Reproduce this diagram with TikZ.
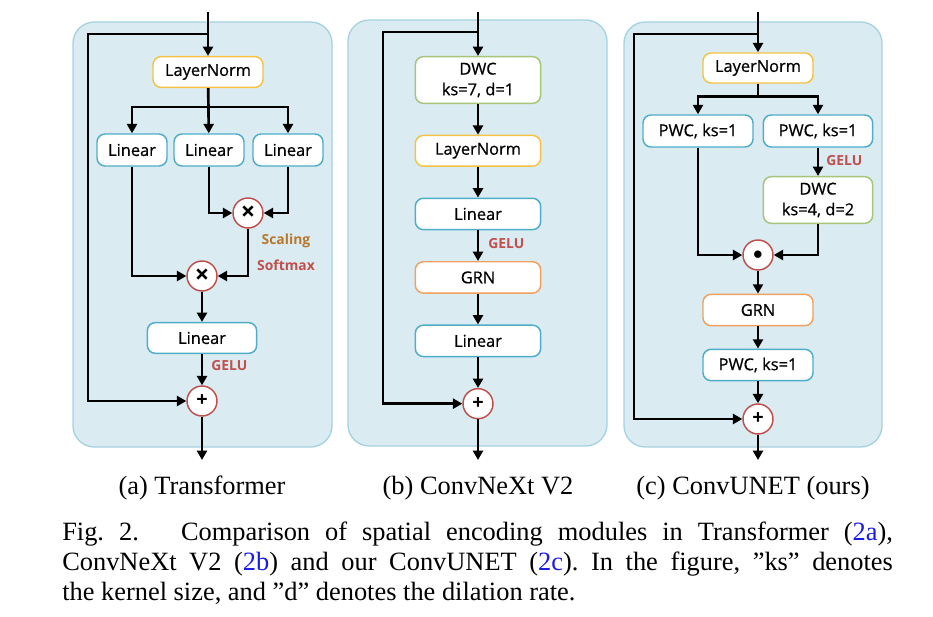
\documentclass[tikz,border=0pt]{standalone}
\usepackage{fontspec}
\setmainfont{Liberation Serif}
\newfontfamily\boxfont[FakeBold=0.6]{Open Sans}
\newfontfamily\lblfont{Open Sans}
\usetikzlibrary{positioning,arrows.meta}
\definecolor{panelfill}{HTML}{DAEBF2}
\definecolor{paneldraw}{HTML}{A5D2E0}
\definecolor{lncol}{HTML}{F4C244}
\definecolor{lincol}{HTML}{4FADC8}
\definecolor{dwccol}{HTML}{A6C47A}
\definecolor{grncol}{HTML}{F0A060}
\definecolor{opcol}{HTML}{C0504D}
\definecolor{scalecol}{HTML}{B8782E}
\definecolor{refcol}{HTML}{1A1AE6}
\tikzset{
  line/.style={-{Triangle[length=7pt,width=7.5pt]}, line width=2pt},
  panel/.style={fill=panelfill, draw=paneldraw, line width=1pt, rounded corners=16pt},
  box/.style={draw, fill=white, rounded corners=6pt, line width=1.1pt, align=center, inner sep=2pt,
    font=\boxfont\fontsize{12.3}{15.5}\selectfont},
  lnbox/.style={box, draw=lncol, minimum width=82.5pt, minimum height=23pt},
  linbox/.style={box, draw=lincol, minimum width=52.5pt, minimum height=24pt},
  dwcbox/.style={box, draw=dwccol, minimum width=82pt, minimum height=35pt},
  grnbox/.style={box, draw=grncol, minimum width=82.5pt, minimum height=23.5pt},
  op/.style={circle, draw=opcol, fill=white, line width=1.1pt, minimum size=22.5pt, inner sep=0pt,
    font=\lblfont\bfseries\fontsize{15}{15}\selectfont},
  lbl/.style={font=\lblfont\bfseries\fontsize{10.4}{12}\selectfont, text=opcol, inner sep=0pt},
  subcap/.style={font=\fontsize{19.8}{22.3}\selectfont, inner sep=0pt}
}

\begin{document}
\begin{tikzpicture}[x=0.75pt, y=-0.75pt, node distance=23pt]
  \useasboundingbox (0,0) rectangle (933,617);
  % panels
  \draw[panel] (73,22) rectangle (332,447);
  \draw[panel] (348,20) rectangle (607,446);
  \draw[panel] (624,22) rectangle (882,447);

  % (a) Transformer
  \coordinate (ain) at (208,12);
  \coordinate (askip) at (208,34);
  \node[lnbox] (aln) at (208,72) {LayerNorm};
  \node[linbox] (alin1) at (132,150) {Linear};
  \node[linbox] (alin2) at (209,150) {Linear};
  \node[linbox] (alin3) at (288,150) {Linear};
  \node[op, font=\lblfont\bfseries\fontsize{19}{19}\selectfont] (amul1) at (248,213) {×};
  \node[op, font=\lblfont\bfseries\fontsize{19}{19}\selectfont] (amul2) at (202,276) {×};
  \node[lbl, text=scalecol] (ascale) at (286,241) {Scaling};
  \node[lbl] (asoft) at (286,265) {Softmax};
  \node[linbox, minimum width=82pt, minimum height=23pt] (alin4) at (202,338) {Linear};
  \node[lbl, anchor=west] (agelu) at (211,366) {GELU};
  \node[op] (aplus) at (202,401) {+};
  \coordinate (aout) at (202,460);

  \draw[line] (ain) -- (aln);
  \draw[line] (askip) -- ++(-120,0) |- (aplus);
  \draw[line] (aln) -- (alin2);
  \draw[line] (aln.south) -- ++(0,19) -| (alin1);
  \draw[line] (aln.south) -- ++(0,19) -| (alin3);
  \draw[line] (alin2) |- (amul1);
  \draw[line] (alin3) |- (amul1);
  \draw[line] (amul1) |- (amul2);
  \draw[line] (alin1) |- (amul2);
  \draw[line] (amul2) -- (alin4);
  \draw[line] (alin4) -- (aplus);
  \draw[line] (aplus) -- (aout);

  % (b) ConvNeXt V2
  \coordinate (bin) at (478,12);
  \coordinate (bskip) at (478,32);
  \node[dwcbox, minimum width=94pt] (bdwc) at (478,80) {DWC\\ks=7, d=1};
  \node[lnbox, minimum width=94pt, below=of bdwc] (bln) {LayerNorm};
  \node[linbox, minimum width=94pt, minimum height=23.5pt, below=of bln] (blin1) {Linear};
  \node[grnbox, minimum width=94pt, below=of blin1] (bgrn) {GRN};
  \node[linbox, minimum width=94pt, minimum height=23.5pt, below=of bgrn] (blin2) {Linear};
  \node[op, below=of blin2] (bplus) {+};
  \node[lbl, anchor=west] (bgelu) at (488,244) {GELU};
  \coordinate (bout) at (478,460);

  \draw[line] (bin) -- (bdwc);
  \draw[line] (bskip) -- ++(-95,0) |- (bplus);
  \draw[line] (bdwc) -- (bln);
  \draw[line] (bln) -- (blin1);
  \draw[line] (blin1) -- (bgrn);
  \draw[line] (bgrn) -- (blin2);
  \draw[line] (blin2) -- (bplus);
  \draw[line] (bplus) -- (bout);

  % (c) ConvUNET
  \coordinate (cin) at (758,12);
  \coordinate (cskip) at (758,34);
  \node[lnbox, minimum height=22.5pt] (cln) at (758,68) {LayerNorm};
  \node[linbox, minimum width=82.5pt] (cpwc1) at (698,131) {PWC, ks=1};
  \node[linbox, minimum width=82pt] (cpwc2) at (818,131) {PWC, ks=1};
  \node[lbl, anchor=west] (cgelu) at (826,161) {GELU};
  \node[dwcbox] (cdwc) at (818,200) {DWC\\ks=4, d=2};
  \node[op] (cdot) at (758,255) {$\bullet$};
  \node[grnbox] (cgrn) at (758,310) {GRN};
  \node[linbox, minimum width=82.5pt, minimum height=23.5pt] (cpwc3) at (758,365) {PWC, ks=1};
  \node[op] (cplus) at (758,419) {+};
  \coordinate (cout) at (758,460);

  \draw[line] (cin) -- (cln);
  \draw[line] (cskip) -- ++(-124,0) |- (cplus);
  \draw[line] (cln.south) -- ++(0,13) -| (cpwc1);
  \draw[line] (cln.south) -- ++(0,13) -| (cpwc2);
  \draw[line] (cpwc2) -- (cdwc);
  \draw[line] (cpwc1) |- (cdot);
  \draw[line] (cdwc) |- (cdot);
  \draw[line] (cdot) -- (cgrn);
  \draw[line] (cgrn) -- (cpwc3);
  \draw[line] (cpwc3) -- (cplus);
  \draw[line] (cplus) -- (cout);

  % captions
  \node[subcap] (capa) at (202,488) {(a) Transformer};
  \node[subcap] (capb) at (478,488) {(b) ConvNeXt V2};
  \node[subcap] (capc) at (753,488) {(c) ConvUNET (ours)};
  \node[subcap, anchor=north west, text width=623pt, align=justify] (fig) at (62,522)
    {\frenchspacing Fig.~2.\hspace{1.6em}Comparison of spatial encoding modules in Transformer (\textcolor{refcol}{2a}),\linebreak
     ConvNeXt V2 (\textcolor{refcol}{2b}) and our ConvUNET (\textcolor{refcol}{2c}). In the figure, ”ks” denotes\linebreak
     the kernel size, and ”d” denotes the dilation rate.};
\end{tikzpicture}
\end{document}
